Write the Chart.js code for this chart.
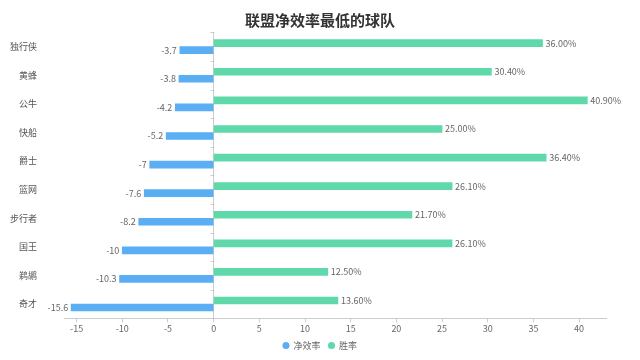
<!DOCTYPE html>
<html>
<head>
<meta charset="utf-8">
<script src="https://cdn.jsdelivr.net/npm/chart.js@4/dist/chart.umd.min.js"></script>
<style>
  html, body { margin: 0; padding: 0; background: #fff; }
  canvas { display: block; }
</style>
</head>
<body>
<canvas id="chart" width="640" height="360"></canvas>
<script>
const teams = ["独行侠", "黄蜂", "公牛", "快船", "爵士", "篮网", "步行者", "国王", "鹈鹕", "奇才"];
const netRating = [-3.7, -3.8, -4.2, -5.2, -7, -7.6, -8.2, -10, -10.3, -15.6];
const winPct = [36.0, 30.4, 40.9, 25.0, 36.4, 26.1, 21.7, 26.1, 12.5, 13.6];
const xTicks = [-15, -10, -5, 0, 5, 10, 15, 20, 25, 30, 35, 40];

const FONT = "'Noto Sans CJK SC', 'Noto Sans', sans-serif";
const BLUE = "#5aaef3";
const GREEN = "#5fd9aa";
const AXIS = "#cccccc";

// value labels next to the bar ends
const barLabels = {
  id: "barLabels",
  afterDatasetsDraw(chart) {
    const ctx = chart.ctx;
    ctx.save();
    ctx.font = "9px " + FONT;
    ctx.fillStyle = "#666";
    ctx.textBaseline = "middle";
    chart.data.datasets.forEach((ds, di) => {
      chart.getDatasetMeta(di).data.forEach((bar, i) => {
        const v = ds.data[i];
        if (v < 0) {
          ctx.textAlign = "right";
          ctx.fillText(String(v), bar.x - 3, bar.y);
        } else {
          ctx.textAlign = "left";
          ctx.fillText(v.toFixed(2) + "%", bar.x + 3, bar.y);
        }
      });
    });
    ctx.restore();
  }
};

// small category ticks on the left of the zero line
const zeroTicks = {
  id: "zeroTicks",
  afterDraw(chart) {
    const ctx = chart.ctx;
    const x0 = Math.round(chart.scales.x.getPixelForValue(0)) + 0.5;
    const area = chart.chartArea;
    const step = (area.bottom - area.top) / teams.length;
    ctx.save();
    ctx.strokeStyle = AXIS;
    ctx.lineWidth = 1;
    for (let i = 0; i <= teams.length; i++) {
      const y = Math.round(area.top + i * step) + 0.5;
      ctx.beginPath();
      ctx.moveTo(x0 - 4, y);
      ctx.lineTo(x0, y);
      ctx.stroke();
    }
    ctx.restore();
  }
};

new Chart(document.getElementById("chart"), {
  type: "bar",
  data: {
    labels: teams,
    datasets: [
      { label: "胜率", data: winPct, backgroundColor: GREEN, barThickness: 7 },
      { label: "净效率", data: netRating, backgroundColor: BLUE, barThickness: 7 }
    ]
  },
  options: {
    indexAxis: "y",
    responsive: false,
    animation: false,
    devicePixelRatio: 1,
    layout: { padding: 0 },
    scales: {
      x: {
        min: Math.min(...netRating) * 1.05,
        max: Math.max(...winPct) * 1.05,
        afterBuildTicks(scale) {
          scale.ticks = xTicks.map(v => ({ value: v }));
        },
        afterFit(scale) { scale.height = 14.7; },
        grid: {
          color: c => (c.tick && c.tick.value === 0 ? AXIS : "transparent"),
          tickColor: AXIS,
          tickLength: 4,
          drawTicks: true
        },
        border: { display: true, color: AXIS },
        ticks: {
          padding: 1,
          color: "#666",
          font: { family: FONT, size: 9 }
        }
      },
      y: {
        afterFit(scale) { scale.width = 64; },
        grid: { display: false, drawTicks: false },
        border: { display: false },
        ticks: {
          padding: 27,
          color: "#555",
          font: { family: FONT, size: 9 }
        }
      },
      // empty right-hand spacer so title and legend stay centred on the page
      yRight: {
        type: "category",
        position: "right",
        afterFit(scale) { scale.width = 34; },
        grid: { display: false, drawTicks: false },
        border: { display: false },
        ticks: { display: false }
      }
    },
    plugins: {
      title: {
        display: true,
        text: "联盟净效率最低的球队",
        color: "#333",
        font: { family: FONT, size: 15, weight: "bold" },
        padding: { top: 8, bottom: 3.5 }
      },
      legend: {
        position: "bottom",
        reverse: true,
        labels: {
          usePointStyle: true,
          pointStyle: "circle",
          boxWidth: 6,
          boxHeight: 5,
          padding: 8,
          color: "#666",
          font: { family: FONT, size: 9 }
        }
      },
      tooltip: { enabled: false }
    }
  },
  plugins: [barLabels, zeroTicks]
});
</script>
</body>
</html>
